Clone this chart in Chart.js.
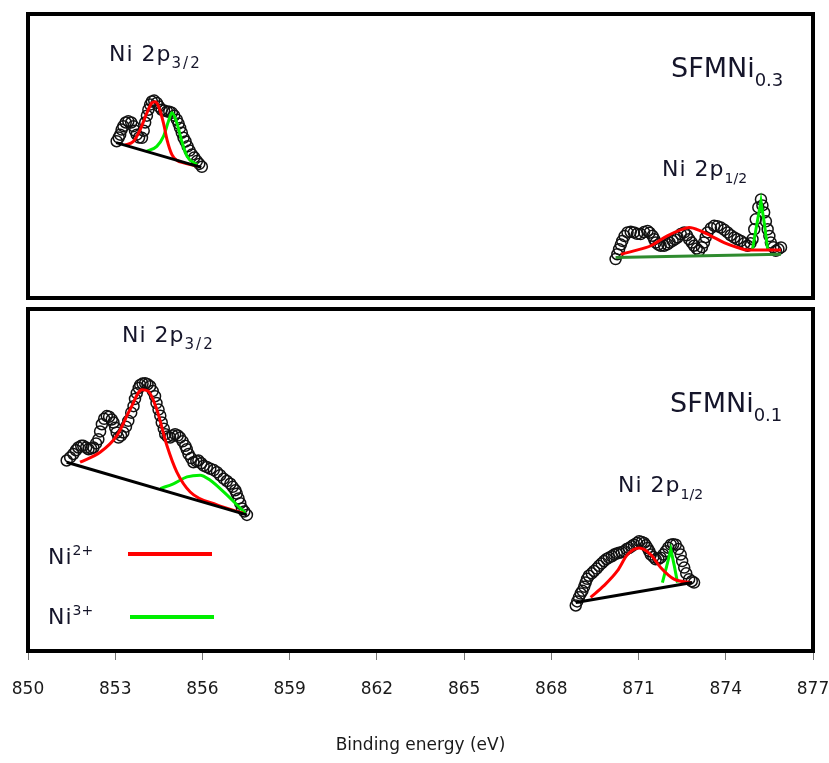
<!DOCTYPE html>
<html>
<head>
<meta charset="utf-8">
<script src="https://cdn.jsdelivr.net/npm/chart.js@4.4.1/dist/chart.umd.min.js"></script>
<style>
  html, body { margin:0; padding:0; background:#fff; }
  #wrap { position:relative; width:829px; height:763px; overflow:hidden; }
  .panel { position:absolute; left:0; width:829px; }
  .lbl { position:absolute; font-family:'DejaVu Sans', sans-serif; font-size:22px; line-height:22px;
         letter-spacing:1px; white-space:nowrap; color:#15152a; }
  .big { font-size:27px; line-height:27px; letter-spacing:0; }
  .sub { position:relative; top:7px; font-size:14px; letter-spacing:0; }
  .wide .sub { font-size:15px; letter-spacing:2px; }
  .big .sub { top:9px; font-size:18px; }
  .sup { position:relative; top:-9px; font-size:14px; letter-spacing:0; }
  .key { position:absolute; height:4px; }
</style>
</head>
<body>
<div id="wrap">
  <div class="panel" style="top:0;height:305px"><canvas id="topChart"></canvas></div>
  <div class="panel" style="top:302px;height:461px"><canvas id="botChart"></canvas></div>

  <div class="lbl wide" style="left:109px;top:43px">Ni 2p<span class="sub">3/2</span></div>
  <div class="lbl big" style="left:671px;top:54px">SFMNi<span class="sub">0.3</span></div>
  <div class="lbl" style="left:662px;top:158px">Ni 2p<span class="sub">1/2</span></div>

  <div class="lbl wide" style="left:122px;top:324px">Ni 2p<span class="sub">3/2</span></div>
  <div class="lbl big" style="left:670px;top:389px">SFMNi<span class="sub">0.1</span></div>
  <div class="lbl" style="left:618px;top:474px">Ni 2p<span class="sub">1/2</span></div>

  <div class="lbl" style="left:48px;top:546px">Ni<span class="sup">2+</span></div>
  <div class="key" style="left:128px;top:552px;width:84px;background:#ff0000"></div>
  <div class="lbl" style="left:48px;top:606px">Ni<span class="sup">3+</span></div>
  <div class="key" style="left:130px;top:615px;width:84px;background:#00ee00"></div>
</div>
<script>
// ── Axis ─────────────────────────────────────────────────────────
const energyMin = 850;
const energyMax = 877;
const energyStep = 3;

// ── SFMNi0.3 : Ni 2p3/2 ──────────────────────────────────────────
const a32Energy = [853.05,853.12,853.17,853.22,853.28,853.36,853.45,853.55,853.63,853.68,853.74,853.82,853.92,853.98,
  854.03,854.09,854.14,854.20,854.26,854.34,854.43,854.51,854.60,854.68,854.78,854.86,854.95,855.03,855.12,855.18,
  855.23,855.29,855.35,855.42,855.49,855.56,855.64,855.72,855.81,855.89,855.98];
const a32Counts = [55.2,56.5,57.5,59.3,60.5,61.8,62.2,61.8,60.5,58.9,57.5,56.5,56.4,58.9,
  61.8,64.2,66.3,68.1,69.2,69.5,68.7,67.4,66.3,66.0,65.7,65.6,65.2,64.2,62.8,61.4,
  59.9,58.2,56.4,55.1,53.4,51.9,50.5,49.5,48.2,47.2,46.2];
const a32BaseE = [853.03, 855.96];
const a32BaseI = [54.7, 46.0];
const a32Ni2E = [853.34,853.62,853.86,854.09,854.26,854.37,854.49,854.66,854.78,854.95,855.13,855.35,855.81];
const a32Ni2I = [53.9,55.1,59.3,65.2,68.7,69.1,67.5,61.6,55.8,50.5,48.4,47.6,46.4];
const a32Ni3E = [854.09,854.43,854.66,854.83,854.95,855.12,855.29,855.47,855.81];
const a32Ni3I = [51.7,53.4,56.9,62.2,65.2,61.6,55.2,49.9,47.0];

// ── SFMNi0.3 : Ni 2p1/2 ──────────────────────────────────────────
const a12Energy = [870.21,870.27,870.33,870.39,870.44,870.52,870.62,870.73,870.84,870.95,871.07,871.19,871.31,871.38,
  871.48,871.54,871.59,871.68,871.76,871.88,871.99,872.07,872.17,872.25,872.34,872.45,872.57,872.66,872.74,872.83,
  872.91,873.00,873.08,873.18,873.25,873.31,873.37,873.49,873.60,873.71,873.83,873.95,874.06,874.17,874.29,874.40,
  874.52,874.64,874.75,874.85,874.92,874.98,875.03,875.12,875.21,875.26,875.32,875.38,875.44,875.50,875.55,875.64,
  875.72,875.81,875.90];
const a12Counts = [13.7,15.4,17.2,18.8,20.1,21.8,23.1,23.3,23.1,22.6,22.5,23.2,23.6,23.0,
  21.9,20.7,19.5,18.8,18.4,18.4,18.9,19.5,20.1,20.7,21.3,22.5,23.1,22.1,20.7,19.5,
  18.4,17.4,16.6,17.9,19.5,21.4,23.1,24.6,25.4,25.3,24.8,24.0,23.1,22.1,21.3,20.7,
  20.1,19.3,18.4,19.3,20.7,24.2,27.7,31.9,34.7,32.6,30.1,27.0,24.2,21.8,19.5,17.9,
  16.6,17.2,17.8];
const a12BaseE = [870.21, 875.90];
const a12BaseI = [14.3, 15.4];
const a12Ni2E = [870.39,870.84,871.42,871.99,872.45,872.74,873.14,873.49,873.94,874.40,874.75,875.90];
const a12Ni2I = [15.4,16.6,18.4,21.9,24.0,24.8,23.6,21.9,19.5,17.8,16.9,16.9];
const a12Ni3E = [874.92,875.05,875.21,875.33,875.44];
const a12Ni3I = [17.2,24.9,34.1,26.0,17.2];

// ── SFMNi0.1 : Ni 2p3/2 ──────────────────────────────────────────
const b32Energy = [851.33,851.45,851.56,851.65,851.73,851.83,851.90,852.00,852.08,852.17,852.25,852.34,852.42,852.48,
  852.54,852.62,852.71,852.79,852.88,852.94,853.00,853.05,853.11,853.20,853.28,853.37,853.45,853.55,853.63,853.68,
  853.74,853.81,853.86,853.94,854.03,854.11,854.20,854.29,854.37,854.42,854.49,854.55,854.60,854.67,854.72,854.80,
  854.89,854.98,855.06,855.15,855.23,855.32,855.41,855.46,855.52,855.61,855.69,855.79,855.86,855.96,856.04,856.15,
  856.27,856.39,856.50,856.61,856.73,856.84,856.96,857.04,857.13,857.18,857.24,857.30,857.36,857.44,857.53];
const b32Counts = [55.7,56.6,57.6,58.7,59.5,60.0,60.0,59.5,59.0,59.2,59.5,60.7,61.9,64.2,
  66.3,67.9,68.7,68.5,67.7,66.8,65.3,63.9,62.4,63.0,63.9,65.6,67.3,69.7,71.6,73.7,
  75.4,76.9,77.8,78.2,78.3,78.0,77.4,76.0,74.5,72.5,70.6,68.8,66.8,65.0,63.4,62.7,
  62.4,63.0,63.4,63.0,62.4,61.3,60.0,59.0,57.6,56.4,55.2,55.5,55.7,54.9,54.2,53.8,
  53.3,52.9,52.3,51.4,50.4,49.7,48.9,48.0,47.0,46.0,44.6,43.2,41.7,40.8,39.8];
const b32BaseE = [851.33, 857.53];
const b32BaseI = [55.2, 39.8];
const b32Ni2E = [851.79,852.48,853.05,853.51,853.92,854.13,854.43,854.78,855.12,855.58,856.50,857.40];
const b32Ni2I = [55.2,58.1,62.9,70.6,76.4,76.0,70.6,60.0,52.3,46.5,42.7,40.3];
const b32Ni3E = [854.55,855.00,855.47,855.92,856.27,856.73,857.19,857.47];
const b32Ni3I = [47.5,48.9,50.9,51.4,49.9,46.5,42.7,40.3];

// ── SFMNi0.1 : Ni 2p1/2 ──────────────────────────────────────────
const b12Energy = [868.84,868.89,868.95,869.01,869.07,869.13,869.18,869.23,869.29,869.39,869.47,869.56,869.64,869.73,
  869.81,869.90,869.98,870.08,870.16,870.25,870.33,870.42,870.50,870.59,870.67,870.76,870.84,870.94,871.02,871.11,
  871.19,871.25,871.31,871.37,871.42,871.51,871.59,871.68,871.76,871.85,871.94,872.02,872.11,872.19,872.28,872.37,
  872.45,872.50,872.57,872.64,872.74,872.83,872.91];
const b12Counts = [13.3,14.5,15.7,16.8,17.6,18.8,20.0,21.1,22.0,22.7,23.4,24.1,24.9,25.6,
  26.3,26.9,27.3,27.7,28.2,28.5,28.7,28.9,29.2,29.8,30.1,30.6,31.1,31.6,32.1,31.9,
  31.6,30.9,30.1,29.2,28.2,27.5,26.8,26.9,27.3,28.2,29.2,30.2,31.1,31.2,31.1,29.8,
  28.2,26.3,24.4,22.7,21.0,20.4,20.0];
const b12BaseE = [868.84, 872.85];
const b12BaseI = [14.2, 20.0];
const b12Ni2E = [869.35,869.81,870.27,870.62,871.02,871.42,871.76,872.22,872.80];
const b12Ni2I = [15.7,19.1,23.4,28.2,30.1,28.2,24.4,21.0,20.0];
const b12Ni3E = [871.82,871.97,872.11,872.23,872.34];
const b12Ni3I = [20.0,24.9,29.7,24.9,20.0];

// ── Helpers ──────────────────────────────────────────────────────

const pts = (xs, ys) => xs.map((x, i) => ({ x, y: ys[i] }));

function circles(xs, ys) {
  return { data: pts(xs, ys), showLine:false, pointStyle:'circle', pointRadius:5.5,
    pointBorderColor:'#111', pointBorderWidth:1.5, pointBackgroundColor:'rgba(0,0,0,0)', order:2 };
}
function curve(xs, ys, color, smooth) {
  return { data: pts(xs, ys), borderColor:color, borderWidth:3, pointRadius:0,
    cubicInterpolationMode: smooth ? 'monotone' : 'default', tension:0, order:1 };
}

const frame = {
  id: 'frame',
  afterDraw(chart) {
    const { ctx, chartArea: a } = chart;
    ctx.save();
    ctx.lineWidth = 4;
    ctx.strokeStyle = '#000';
    ctx.strokeRect(a.left, a.top, a.right - a.left, a.bottom - a.top);
    ctx.restore();
  }
};

const xBase = { type:'linear', min:energyMin, max:energyMax };

function panel(el, datasets, withAxis, pad) {
  return new Chart(el, {
    type: 'line',
    data: { datasets },
    options: {
      responsive: true,
      maintainAspectRatio: false,
      animation: false,
      layout: { padding: pad },
      plugins: { legend:{ display:false }, tooltip:{ enabled:false } },
      scales: {
        x: withAxis ? {
          ...xBase,
          border: { display:false },
          grid: { drawOnChartArea:false, drawTicks:true, tickLength:9, color:'#777' },
          ticks: { stepSize:energyStep, padding:19, color:'#1a1a1a', maxRotation:0,
            font:{ family:'DejaVu Sans', size:17 } },
          title: { display:true, text:'Binding energy (eV)', color:'#1a1a1a',
            font:{ family:'DejaVu Sans', size:17 }, padding:{ top:0, bottom:7 } },
          afterFit: s => { s.height = 112; s.paddingLeft = 0; s.paddingRight = 0; }
        } : { ...xBase, display:false },
        y: { display:false, min:0, max:100 }
      }
    },
    plugins: [frame]
  });
}

panel(document.getElementById('topChart'), [
  circles(a32Energy, a32Counts),
  curve(a32BaseE, a32BaseI, '#000', false),
  curve(a32Ni2E, a32Ni2I, '#ff0000', true),
  curve(a32Ni3E, a32Ni3I, '#00ee00', true),
  circles(a12Energy, a12Counts),
  curve(a12BaseE, a12BaseI, '#2e8b2e', false),
  curve(a12Ni2E, a12Ni2I, '#ff0000', true),
  curve(a12Ni3E, a12Ni3I, '#00ee00', false)
], false, { left:28, right:16, top:14, bottom:6 });

panel(document.getElementById('botChart'), [
  circles(b32Energy, b32Counts),
  curve(b32BaseE, b32BaseI, '#000', false),
  curve(b32Ni2E, b32Ni2I, '#ff0000', true),
  curve(b32Ni3E, b32Ni3I, '#00ee00', true),
  circles(b12Energy, b12Counts),
  curve(b12BaseE, b12BaseI, '#000', false),
  curve(b12Ni2E, b12Ni2I, '#ff0000', true),
  curve(b12Ni3E, b12Ni3I, '#00ee00', false)
], true, { left:28, right:16, top:3, bottom:0 });
</script>
</body>
</html>
